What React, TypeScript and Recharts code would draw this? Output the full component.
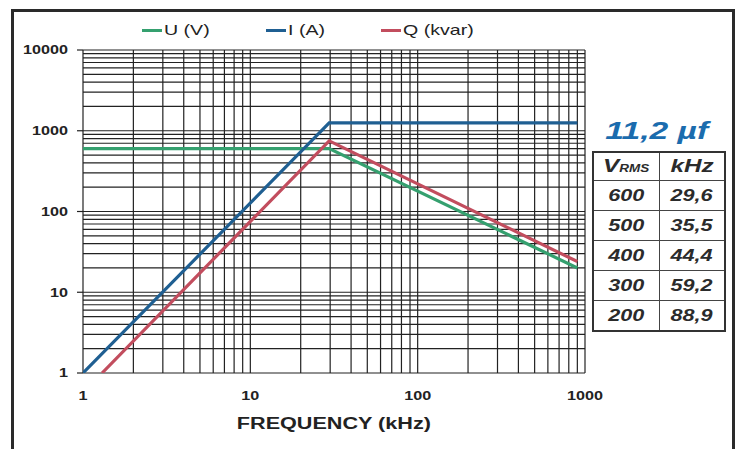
import React from 'react';
import { LineChart, Line, XAxis, YAxis, CartesianGrid } from 'recharts';

// frequency break points (kHz) and values
const uData = [
  { f: 1, v: 600 },
  { f: 29.6, v: 600 },
  { f: 900, v: 20 },
];
const iData = [
  { f: 1, v: 1 },
  { f: 29.6, v: 1250 },
  { f: 900, v: 1250 },
];
const qData = [
  { f: 1.3, v: 1 },
  { f: 29.6, v: 750 },
  { f: 900, v: 24 },
];

const seriesNames = ['U (V)', 'I (A)', 'Q (kvar)'];
const seriesColors = ['#35a06f', '#1f5f92', '#c24d5e'];

const xMajor = [1, 10, 100, 1000];
const yMajor = [1, 10, 100, 1000, 10000];

const capTitle = '11,2 µf';
const vrms = ['600', '500', '400', '300', '200'];
const khz = ['29,6', '35,5', '44,4', '59,2', '88,9'];

const logTicks = (majors: number[]) => {
  const out: number[] = [];
  majors.forEach((m, i) => {
    if (i === majors.length - 1) {
      out.push(m);
      return;
    }
    for (let k = 1; k <= 9; k++) out.push(k * m);
  });
  return out;
};

const xTicks = logTicks(xMajor);
const yTicks = logTicks(yMajor);

const FONT = '"Liberation Sans", Arial, sans-serif';
const STRETCH = 1.35;
const INK = '#222';

function YTick(props: any) {
  const { x, y, payload } = props;
  if (!yMajor.includes(payload.value)) return null;
  return (
    <g>
      <line x1={x + 9} x2={x + 15} y1={y} y2={y} stroke={INK} strokeWidth={1.2} />
      <text
        transform={`translate(${x},${y}) scale(${STRETCH},1)`}
        textAnchor="end"
        dy="0.36em"
        fontFamily={FONT}
        fontWeight="bold"
        fontSize={12}
        fill={INK}
      >
        {payload.value}
      </text>
    </g>
  );
}

function XTick(props: any) {
  const { x, y, payload } = props;
  if (!xMajor.includes(payload.value)) return null;
  return (
    <text
      transform={`translate(${x},${y}) scale(${STRETCH},1)`}
      textAnchor="middle"
      dy="0.71em"
      fontFamily={FONT}
      fontWeight="bold"
      fontSize={12}
      fill={INK}
    >
      {payload.value}
    </text>
  );
}

const legendLeft = [142, 266, 381];

const cellText: React.CSSProperties = {
  display: 'inline-block',
  transform: `scaleX(${STRETCH})`,
  fontFamily: FONT,
  fontWeight: 'bold',
  fontStyle: 'italic',
  fontSize: 16,
  color: '#2b2b2b',
};

export default function App() {
  const rowH = 29;
  const headH = 27;
  const colW = 65;
  return (
    <div style={{ position: 'absolute', left: 0, top: 0, width: 736, height: 449, background: '#fff', overflow: 'hidden' }}>
      <div
        style={{
          position: 'absolute',
          left: 11,
          top: 9,
          width: 718,
          height: 460,
          border: '3px solid #2a2a2a',
        }}
      />
      <div style={{ position: 'absolute', left: 0, top: 0 }}>
        <LineChart width={736} height={449} margin={{ top: 50, right: 151, bottom: 0, left: 0 }}>
          <CartesianGrid stroke={INK} strokeWidth={1.2} />
          <XAxis
            type="number"
            dataKey="f"
            scale="log"
            domain={[1, 1000]}
            ticks={xTicks}
            allowDataOverflow
            axisLine={false}
            tickLine={false}
            tickSize={6}
            tickMargin={12}
            height={76}
            interval={0}
            tick={<XTick />}
          />
          <YAxis
            type="number"
            dataKey="v"
            scale="log"
            domain={[1, 10000]}
            ticks={yTicks}
            allowDataOverflow
            axisLine={false}
            tickLine={false}
            tickSize={6}
            tickMargin={9}
            width={83}
            interval={0}
            tick={<YTick />}
          />
          <Line data={uData} dataKey="v" stroke={seriesColors[0]} strokeWidth={3.2} dot={false} isAnimationActive={false} />
          <Line data={qData} dataKey="v" stroke={seriesColors[2]} strokeWidth={3.2} dot={false} isAnimationActive={false} />
          <Line data={iData} dataKey="v" stroke={seriesColors[1]} strokeWidth={3.2} dot={false} isAnimationActive={false} />
        </LineChart>
      </div>

      {seriesNames.map((name, i) => (
        <div key={name} style={{ position: 'absolute', left: legendLeft[i], top: 22, height: 16, display: 'flex', alignItems: 'center' }}>
          <div style={{ width: 20, height: 3, background: seriesColors[i], marginRight: 2 }} />
          <span
            style={{
              display: 'inline-block',
              transformOrigin: 'left center',
              transform: `scaleX(${STRETCH})`,
              fontFamily: FONT,
              fontSize: 14.5,
              lineHeight: '16px',
              color: INK,
              whiteSpace: 'pre',
            }}
          >
            {name}
          </span>
        </div>
      ))}

      <div style={{ position: 'absolute', left: 234, top: 416, width: 200, textAlign: 'center', lineHeight: '16px' }}>
        <span style={{ display: 'inline-block', transform: `scaleX(${STRETCH})`, fontFamily: FONT, fontWeight: 'bold', fontSize: 16, color: INK, whiteSpace: 'pre' }}>
          FREQUENCY (kHz)
        </span>
      </div>

      <div style={{ position: 'absolute', left: 592, top: 119, width: 130, textAlign: 'center', lineHeight: '24px' }}>
        <span style={{ display: 'inline-block', transform: 'scaleX(1.4)', fontFamily: FONT, fontWeight: 'bold', fontStyle: 'italic', fontSize: 24, color: '#1b6cae', whiteSpace: 'pre' }}>
          {capTitle}
        </span>
      </div>

      <div
        style={{
          position: 'absolute',
          left: 592,
          top: 151,
          width: colW * 2,
          border: '2px solid #333',
          boxSizing: 'content-box',
        }}
      >
        <div style={{ display: 'flex', height: headH }}>
          <div style={{ width: colW, borderRight: '1px solid #444', display: 'flex', alignItems: 'center', justifyContent: 'center' }}>
            <span style={{ ...cellText, fontSize: 18 }}>
              V<span style={{ fontSize: 10 }}>RMS</span>
            </span>
          </div>
          <div style={{ width: colW, display: 'flex', alignItems: 'center', justifyContent: 'center' }}>
            <span style={{ ...cellText, fontSize: 18 }}>kHz</span>
          </div>
        </div>
        {vrms.map((v, i) => (
          <div key={v} style={{ display: 'flex', height: rowH, borderTop: '1.5px solid #444' }}>
            <div style={{ width: colW, borderRight: '1px solid #444', display: 'flex', alignItems: 'center', justifyContent: 'center' }}>
              <span style={cellText}>{v}</span>
            </div>
            <div style={{ width: colW, display: 'flex', alignItems: 'center', justifyContent: 'center' }}>
              <span style={cellText}>{khz[i]}</span>
            </div>
          </div>
        ))}
      </div>
    </div>
  );
}
